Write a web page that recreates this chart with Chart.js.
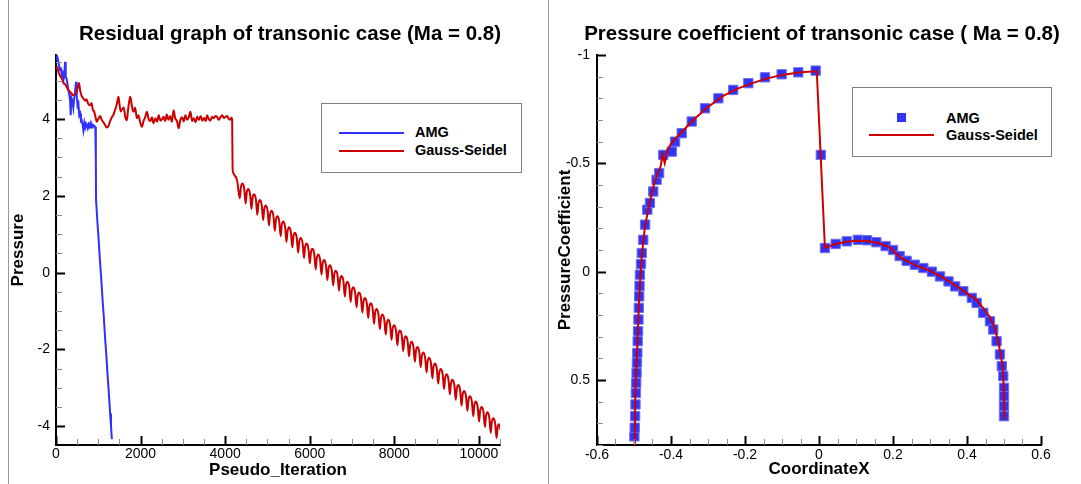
<!DOCTYPE html>
<html>
<head>
<meta charset="utf-8">
<script src="https://cdn.jsdelivr.net/npm/chart.js@4.4.1/dist/chart.umd.min.js"></script>
<style>
  body { margin: 0; width: 1081px; height: 484px; background: #fff; position: relative; overflow: hidden;
         font-family: "Liberation Sans", Arial, sans-serif; }
  .pane { position: absolute; top: 0; height: 484px; }
  .frame { position: absolute; top: 0; width: 1px; height: 484px; background: #9a9a9a; }
  .title { position: absolute; top: 21px; font-weight: bold; font-size: 20.5px; line-height: 24px;
           white-space: nowrap; transform: translateX(-50%); color: #000; }
  .legend { position: absolute; box-sizing: border-box; border: 1px solid #808080; background: #fff; }
  .legend .sw { position: absolute; }
  .legend .lab { position: absolute; font-weight: bold; font-size: 14.5px; line-height: 18px; white-space: nowrap; color: #000; }
</style>
</head>
<body>
<div class="frame" style="left:8px"></div>
<div class="frame" style="left:548px"></div>

<div class="pane" style="left:0; width:548px"><canvas id="residual" width="548" height="484"></canvas></div>
<div class="pane" style="left:549px; width:532px"><canvas id="pressure" width="532" height="484"></canvas></div>

<div class="title" style="left:290px">Residual graph of transonic case (Ma = 0.8)</div>
<div class="title" style="left:822px">Pressure coefficient of transonic case ( Ma = 0.8)</div>

<div class="legend" style="left:321px; top:103px; width:201px; height:70px">
  <div class="sw" style="left:17px; top:28px; width:65px; height:2px; background:#3030ff"></div>
  <div class="lab" style="left:93px; top:19px">AMG</div>
  <div class="sw" style="left:17px; top:46px; width:65px; height:2px; background:#cc0000"></div>
  <div class="lab" style="left:93px; top:37px">Gauss-Seidel</div>
</div>

<div class="legend" style="left:852px; top:87px; width:200px; height:70px">
  <div class="sw" style="left:44px; top:25px; width:9px; height:9px; background:#3333f5"></div>
  <div class="lab" style="left:93px; top:21px">AMG</div>
  <div class="sw" style="left:16px; top:46px; width:65px; height:2px; background:#cc0000"></div>
  <div class="lab" style="left:93px; top:38px">Gauss-Seidel</div>
</div>

<script>
// ---- residual chart data (pseudo iteration, log residual) ----
const amgIter = [0, 20, 40, 55, 75, 95, 115, 135, 155, 174, 195, 213, 230, 253, 280, 300, 320, 332, 348, 365,
  390, 410, 430, 450, 474, 490, 510, 530, 550, 570, 590, 608, 630, 648, 670, 690, 710, 727, 750, 770,
  790, 810, 830, 850, 870, 885, 910, 930, 941, 944, 947, 980, 1010, 1040, 1070, 1100, 1130, 1160, 1190,
  1220, 1250, 1280, 1300, 1321];
const amgRes = [5.55, 5.66, 5.58, 5.50, 5.38, 5.27, 5.35, 5.15, 5.20, 5.01, 5.10, 5.49, 5.10, 5.05, 4.85, 4.70, 4.60, 4.49, 4.10, 4.55,
  4.45, 4.30, 4.55, 4.70, 4.97, 4.60, 4.35, 4.41, 4.10, 4.15, 3.95, 3.97, 3.85, 3.71, 3.90, 3.78, 3.88, 3.84, 3.76, 3.86,
  3.80, 3.88, 3.78, 3.85, 3.80, 3.84, 3.82, 3.78, 3.80, 2.90, 1.90, 1.30, 0.84, 0.30, -0.16, -0.69, -1.15, -1.68, -2.15,
  -2.67, -3.14, -3.67, -3.98, -4.34];

const gsIter = [0, 30, 60, 100, 140, 180, 220, 260, 300, 340, 372, 410, 450, 490, 520, 545, 570, 608, 640, 688,
  720, 760, 806, 840, 870, 900, 925, 945, 965, 1000, 1043, 1080, 1120, 1160, 1202, 1240, 1280, 1320, 1360, 1400,
  1440, 1478, 1500, 1530, 1558, 1600, 1640, 1676, 1700, 1730, 1755, 1780, 1810, 1834, 1870, 1913, 1950, 1990, 2032, 2070,
  2110, 2150, 2190, 2230, 2270, 2308, 2350, 2390, 2430, 2470, 2510, 2545, 2580, 2620, 2660, 2700, 2740, 2782, 2820, 2860,
  2901, 2940, 2980, 3020, 3060, 3100, 3140, 3178, 3220, 3260, 3300, 3340, 3380, 3420, 3460, 3500, 3540, 3573, 3610, 3650,
  3690, 3730, 3770, 3810, 3850, 3890, 3930, 3970, 4010, 4047, 4090, 4126, 4150, 4166, 4172, 4178, 4200, 4230, 4260, 4290, 4320,
  4347, 4372, 4409, 4452, 4485, 4510, 4547, 4590, 4623, 4648, 4685, 4728, 4761, 4786, 4823, 4866,
  4899, 4924, 4961, 5004, 5037, 5062, 5099, 5142, 5175, 5200, 5237, 5280, 5313, 5338, 5375, 5418,
  5451, 5476, 5513, 5556, 5589, 5614, 5651, 5694, 5727, 5752, 5789, 5832, 5865, 5890, 5927, 5970,
  6003, 6028, 6065, 6108, 6141, 6166, 6203, 6246, 6279, 6304, 6341, 6384, 6417, 6442, 6479, 6522,
  6555, 6580, 6617, 6660, 6693, 6718, 6755, 6798, 6831, 6856, 6893, 6936, 6969, 6994, 7031, 7074,
  7107, 7132, 7169, 7212, 7245, 7270, 7307, 7350, 7383, 7408, 7445, 7488, 7521, 7546, 7583, 7626,
  7659, 7684, 7721, 7764, 7797, 7822, 7859, 7902, 7935, 7960, 7997, 8040, 8073, 8098, 8135, 8178,
  8211, 8236, 8273, 8316, 8349, 8374, 8411, 8454, 8487, 8512, 8549, 8592, 8625, 8650, 8687, 8730,
  8763, 8788, 8825, 8868, 8901, 8926, 8963, 9006, 9039, 9064, 9101, 9144, 9177, 9202, 9239, 9282,
  9315, 9340, 9377, 9420, 9453, 9478, 9515, 9558, 9591, 9616, 9653, 9696, 9729, 9754, 9791, 9834,
  9867, 9892, 9929, 9972, 10005, 10030, 10067, 10110, 10143, 10168, 10205, 10248, 10281, 10306, 10343, 10386,
  10419, 10444, 10481, 10510, 10525];
const gsRes = [5.30, 5.36, 5.22, 5.12, 5.05, 4.95, 4.90, 4.82, 4.75, 4.70, 4.66, 4.62, 4.64, 4.72, 4.85, 4.94, 4.75, 4.60, 4.55, 4.48,
  4.52, 4.40, 4.36, 4.42, 4.25, 4.20, 4.10, 4.00, 3.93, 4.00, 4.08, 3.98, 3.92, 3.85, 3.78, 3.82, 3.95, 4.05, 4.12, 4.25,
  4.40, 4.58, 4.40, 4.20, 4.25, 4.30, 4.05, 3.97, 4.20, 4.45, 4.58, 4.45, 4.25, 4.19, 4.30, 4.02, 4.10, 3.92, 3.80, 3.95,
  4.05, 4.19, 4.00, 3.95, 4.05, 3.89, 4.02, 3.93, 4.10, 3.96, 4.00, 4.06, 3.95, 4.12, 3.98, 4.08, 3.93, 4.23, 4.02, 3.95,
  3.76, 3.98, 4.05, 3.94, 4.10, 3.98, 4.05, 4.19, 3.95, 4.02, 3.92, 4.06, 3.98, 4.08, 3.96, 4.03, 3.95, 4.10, 4.00, 3.96,
  4.06, 4.02, 4.08, 4.06, 3.98, 4.05, 4.10, 4.03, 4.06, 4.08, 4.00, 3.99, 4.04, 3.98, 3.20, 2.68, 2.58, 2.52, 2.48, 2.35, 2.10,
  1.94, 2.22, 2.32, 2.18, 1.80, 2.08, 2.18, 2.04, 1.66, 1.94, 2.04, 1.90, 1.51, 1.79, 1.89, 1.75,
  1.37, 1.65, 1.75, 1.61, 1.23, 1.51, 1.61, 1.47, 1.09, 1.37, 1.47, 1.33, 0.95, 1.23, 1.33, 1.19,
  0.80, 1.08, 1.18, 1.04, 0.66, 0.94, 1.04, 0.90, 0.52, 0.80, 0.90, 0.76, 0.38, 0.66, 0.76, 0.62,
  0.24, 0.52, 0.62, 0.48, 0.09, 0.37, 0.47, 0.33, -0.05, 0.23, 0.33, 0.19, -0.19, 0.09, 0.19, 0.05,
  -0.33, -0.05, 0.05, -0.09, -0.47, -0.19, -0.09, -0.23, -0.62, -0.34, -0.24, -0.38, -0.76, -0.48, -0.38, -0.52,
  -0.90, -0.62, -0.52, -0.66, -1.04, -0.76, -0.66, -0.80, -1.18, -0.90, -0.80, -0.94, -1.33, -1.05, -0.95, -1.09,
  -1.47, -1.19, -1.09, -1.23, -1.61, -1.33, -1.23, -1.37, -1.75, -1.47, -1.37, -1.51, -1.89, -1.61, -1.51, -1.65,
  -2.04, -1.76, -1.66, -1.80, -2.18, -1.90, -1.80, -1.94, -2.32, -2.04, -1.94, -2.08, -2.46, -2.18, -2.08, -2.22,
  -2.60, -2.32, -2.22, -2.36, -2.75, -2.47, -2.37, -2.51, -2.89, -2.61, -2.51, -2.65, -3.03, -2.75, -2.65, -2.79,
  -3.17, -2.89, -2.79, -2.93, -3.31, -3.03, -2.93, -3.07, -3.46, -3.18, -3.08, -3.22, -3.60, -3.32, -3.22, -3.36,
  -3.74, -3.46, -3.36, -3.50, -3.88, -3.60, -3.50, -3.64, -4.02, -3.74, -3.64, -3.78, -4.17, -3.89, -3.79, -3.93,
  -4.31, -4.03, -3.95, -4.10, -4.45];

const iterTicks = [0, 2000, 4000, 6000, 8000, 10000];
const resTicks = [-4, -2, 0, 2, 4];

// ---- pressure coefficient data ----
const amgX = [-0.499, -0.498, -0.497, -0.496, -0.495, -0.494, -0.493, -0.492, -0.491, -0.490, -0.489, -0.488, -0.487, -0.486,
  -0.485, -0.484, -0.481, -0.479, -0.475, -0.470, -0.464, -0.457, -0.448, -0.439, -0.432, -0.421, -0.398, -0.389, -0.371,
  -0.344, -0.308, -0.272, -0.232, -0.191, -0.146, -0.101, -0.056, -0.009, 0.005, 0.016, 0.045, 0.075, 0.105, 0.13, 0.155,
  0.18, 0.2, 0.218, 0.237, 0.259, 0.282, 0.305, 0.327, 0.35, 0.368, 0.39, 0.413, 0.426, 0.444, 0.462, 0.471, 0.48, 0.489,
  0.494, 0.498, 0.5, 0.5, 0.5, 0.5];
const amgCp = [0.76, 0.72, 0.667, 0.613, 0.56, 0.513, 0.467, 0.42, 0.375, 0.321, 0.275, 0.221, 0.167, 0.114,
  0.065, 0.014, -0.035, -0.086, -0.147, -0.217, -0.286, -0.317, -0.37, -0.424, -0.455, -0.539, -0.554, -0.60, -0.639,
  -0.693, -0.754, -0.80, -0.839, -0.87, -0.897, -0.911, -0.92, -0.928, -0.539, -0.109, -0.128, -0.14, -0.147, -0.145, -0.136,
  -0.118, -0.1, -0.072, -0.05, -0.032, -0.017, 0, 0.022, 0.045, 0.068, 0.09, 0.121, 0.144, 0.19, 0.229, 0.267, 0.321, 0.382,
  0.436, 0.482, 0.536, 0.575, 0.621, 0.667];

const gsX = [-0.498, -0.497, -0.494, -0.491, -0.488, -0.484, -0.48, -0.475, -0.47, -0.46, -0.448, -0.437, -0.428, -0.423,
  -0.417, -0.41, -0.4, -0.385, -0.365, -0.34, -0.3, -0.26, -0.22, -0.18, -0.14, -0.1, -0.05, -0.006, 0.016, 0.04, 0.07,
  0.1, 0.13, 0.16, 0.19, 0.22, 0.26, 0.3, 0.336, 0.37, 0.4, 0.426, 0.445, 0.462, 0.475, 0.485, 0.492, 0.496, 0.499, 0.501];
const gsCp = [0.82, 0.6, 0.45, 0.35, 0.2, 0.06, -0.05, -0.14, -0.21, -0.3, -0.39, -0.45, -0.485, -0.54,
  -0.5, -0.56, -0.59, -0.62, -0.655, -0.7, -0.76, -0.81, -0.845, -0.87, -0.892, -0.908, -0.92, -0.925, -0.11, -0.125, -0.137,
  -0.143, -0.142, -0.132, -0.113, -0.065, -0.03, -0.005, 0.029, 0.065, 0.1, 0.13, 0.17, 0.209, 0.26, 0.329, 0.39, 0.436, 0.52, 0.682];

const coordTicks = [-0.6, -0.4, -0.2, 0, 0.2, 0.4, 0.6];
const cpTicks = [-1, -0.5, 0, 0.5];

// ---- inward tick marks like the original plot ----
const innerTicks = {
  id: 'innerTicks',
  afterDatasetsDraw(chart, args, opts) {
    const ctx = chart.ctx;
    const area = chart.chartArea;
    ctx.save();
    opts.axes.forEach(a => {
      const s = chart.scales[a.id];
      const lo = Math.min(s.min, s.max), hi = Math.max(s.min, s.max);
      const horiz = s.isHorizontal();
      const mark = (v, len) => {
        const p = Math.round(s.getPixelForValue(v)) + 0.5;
        ctx.beginPath();
        if (horiz) { ctx.moveTo(p, area.bottom); ctx.lineTo(p, area.bottom - len); }
        else { ctx.moveTo(area.left, p); ctx.lineTo(area.left + len, p); }
        ctx.stroke();
      };
      ctx.strokeStyle = '#8c8c8c';
      ctx.lineWidth = 1;
      const k0 = Math.ceil(lo / a.minor - 1e-6), k1 = Math.floor(hi / a.minor + 1e-6);
      for (let k = k0; k <= k1; k++) mark(k * a.minor, 6);
      ctx.strokeStyle = '#000';
      ctx.lineWidth = 2;
      a.major.forEach(v => mark(v, 9));
    });
    ctx.restore();
  }
};

const tickFont = { family: '"Liberation Sans", Arial', size: 14 };
const axisTitleFont = { family: '"Liberation Sans", Arial', size: 17, weight: 'bold' };
const pairs = (xs, ys) => xs.map((x, i) => ({ x: x, y: ys[i] }));
const setTicks = list => scale => { scale.ticks = list.map(v => ({ value: v })); };

new Chart(document.getElementById('residual'), {
  type: 'scatter',
  data: {
    datasets: [
      { label: 'AMG', data: pairs(amgIter, amgRes), showLine: true, borderColor: '#3030ff',
        borderWidth: 2, pointRadius: 0, order: 2 },
      { label: 'Gauss-Seidel', data: pairs(gsIter, gsRes), showLine: true, borderColor: '#cc0000',
        borderWidth: 2, pointRadius: 0, cubicInterpolationMode: 'monotone', order: 1 }
    ]
  },
  options: {
    responsive: false,
    animation: false,
    layout: { padding: { left: 0, top: 55, right: 48, bottom: 0 } },
    plugins: {
      legend: { display: false },
      tooltip: { enabled: false },
      innerTicks: { axes: [
        { id: 'x', major: iterTicks, minor: 500 },
        { id: 'y', major: resTicks, minor: 0.5 }
      ] }
    },
    scales: {
      x: {
        type: 'linear', min: 0, max: 10500,
        afterBuildTicks: setTicks(iterTicks),
        afterFit: s => { s.height = 39; },
        grid: { display: false, drawTicks: false },
        border: { display: true, color: '#000', width: 2 },
        ticks: { font: tickFont, color: '#000', padding: 1, maxRotation: 0, callback: v => String(v) },
        title: { display: true, text: 'Pseudo_Iteration', font: axisTitleFont, color: '#000', padding: { top: 0, bottom: 3 } }
      },
      y: {
        type: 'linear', min: -4.49, max: 5.67,
        afterBuildTicks: setTicks(resTicks),
        afterFit: s => { s.width = 56; },
        grid: { display: false, drawTicks: false },
        border: { display: true, color: '#000', width: 2 },
        ticks: { font: tickFont, color: '#000', padding: 6, callback: v => String(v) },
        title: { display: true, text: 'Pressure', font: axisTitleFont, color: '#000', padding: { top: 8, bottom: 0 } }
      }
    }
  },
  plugins: [innerTicks]
});

new Chart(document.getElementById('pressure'), {
  type: 'scatter',
  data: {
    datasets: [
      { label: 'AMG', data: pairs(amgX, amgCp), showLine: false, pointStyle: 'rect', pointRadius: 6.6,
        backgroundColor: '#3333f5', borderColor: '#7070f2', borderWidth: 1, order: 2 },
      { label: 'Gauss-Seidel', data: pairs(gsX, gsCp), showLine: true, borderColor: '#cc0000',
        borderWidth: 2, pointRadius: 0, order: 1 }
    ]
  },
  options: {
    responsive: false,
    animation: false,
    layout: { padding: { left: 0, top: 55, right: 40, bottom: 0 } },
    plugins: {
      legend: { display: false },
      tooltip: { enabled: false },
      innerTicks: { axes: [
        { id: 'x', major: coordTicks, minor: 0.05 },
        { id: 'y', major: cpTicks, minor: 0.1 }
      ] }
    },
    scales: {
      x: {
        type: 'linear', min: -0.6, max: 0.6,
        afterBuildTicks: setTicks(coordTicks),
        afterFit: s => { s.height = 39; },
        grid: { display: false, drawTicks: false },
        border: { display: true, color: '#000', width: 2 },
        ticks: { font: tickFont, color: '#000', padding: 2, maxRotation: 0, callback: v => String(Math.round(v * 10) / 10) },
        title: { display: true, text: 'CoordinateX', font: axisTitleFont, color: '#000', padding: { top: 0, bottom: 4 } }
      },
      y: {
        type: 'linear', min: -1, max: 0.8, reverse: true,
        afterBuildTicks: setTicks(cpTicks),
        afterFit: s => { s.width = 48; },
        grid: { display: false, drawTicks: false },
        border: { display: true, color: '#000', width: 2 },
        ticks: { font: tickFont, color: '#000', padding: 7, callback: v => String(Math.round(v * 10) / 10) },
        title: { display: true, text: 'PressureCoefficient', font: axisTitleFont, color: '#000', padding: { top: 6, bottom: 0 } }
      }
    }
  },
  plugins: [innerTicks]
});
</script>
</body>
</html>
